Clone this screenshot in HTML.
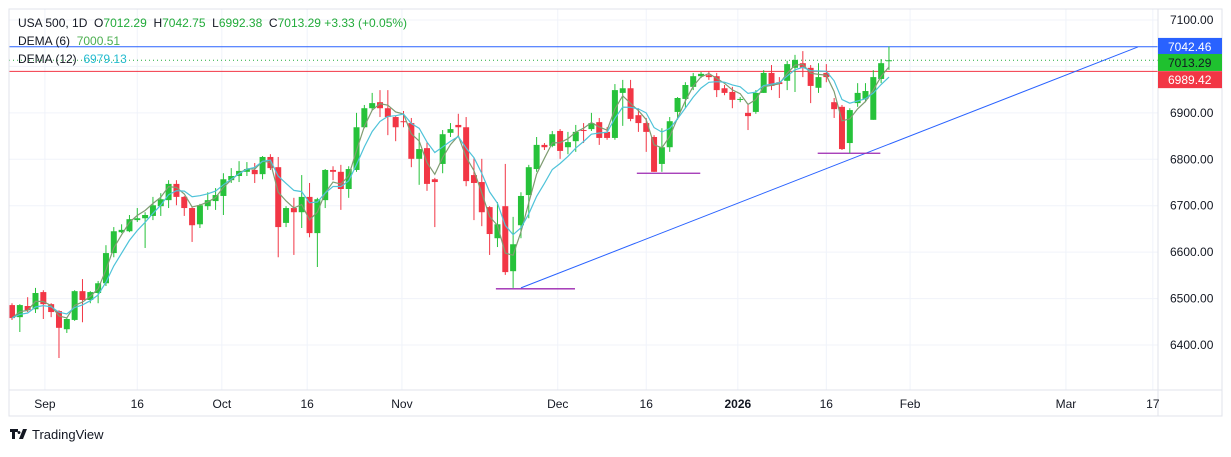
<!DOCTYPE html>
<html><head><meta charset="utf-8">
<style>
html,body{margin:0;padding:0;background:#fff;}
body{width:1231px;height:452px;overflow:hidden;font-family:"Liberation Sans",sans-serif;}
svg text{font-family:"Liberation Sans",sans-serif;}
</style></head>
<body>
<svg id="chart" width="1231" height="452" viewBox="0 0 1231 452" xmlns="http://www.w3.org/2000/svg">
  <g id="grid"></g>
  <g id="drawings"></g>
  <g id="candles"></g>
  <g id="mas"></g>
  <g id="axes"></g>
  <g id="legend">
    <text x="18" y="27" font-size="12" fill="#131722" xml:space="preserve">USA 500, 1D  O<tspan fill="#22ab3a">7012.29</tspan>  H<tspan fill="#22ab3a">7042.75</tspan>  L<tspan fill="#22ab3a">6992.38</tspan>  C<tspan fill="#22ab3a">7013.29 +3.33 (+0.05%)</tspan></text>
    <text x="18" y="45" font-size="12" fill="#131722" xml:space="preserve">DEMA (6)  <tspan fill="#4caf50">7000.51</tspan></text>
    <text x="18" y="63" font-size="12" fill="#131722" xml:space="preserve">DEMA (12)  <tspan fill="#26bcd0">6979.13</tspan></text>
  </g>
  <g>
    <path d="M10 429h8v3h-3v7h-3v-7h-2z M19 431a1.5 1.5 0 1 0 0.01 0z M23 429h4l-4 10h-4z" fill="#131722"/>
    <text x="32" y="439" font-size="13" fill="#131722">TradingView</text>
  </g>
</svg>
<script>
const opens=[6486,6460,6484,6477,6514,6488,6473,6434,6454,6516,6497,6512,6533,6598,6643,6645,6669,6673,6678,6699,6712,6747,6719,6695,6660,6699,6710,6721,6755,6764,6773,6777,6768,6805,6783,6663,6695,6686,6719,6641,6712,6777,6773,6736,6777,6869,6910,6923,6910,6891,6882,6878,6801,6824,6757,6790,6857,6874,6869,6766,6751,6697,6630,6699,6559,6658,6723,6779,6831,6829,6861,6826,6839,6863,6865,6880,6859,6846,6943,6953,6895,6878,6848,6790,6826,6902,6930,6956,6979,6981,6979,6953,6945,6928,6900,6902,6943,6986,6966,6969,6997,7007,6997,6954,6986,6923,6913,6835,6921,6930,6885,6973,7012.29];
const highs=[6490,6488,6503,6523,6518,6490,6475,6458,6518,6542,6516,6538,6615,6654,6660,6680,6695,6686,6719,6727,6755,6755,6721,6697,6704,6729,6738,6770,6781,6796,6794,6792,6807,6811,6805,6699,6717,6766,6749,6717,6779,6785,6788,6785,6900,6917,6943,6949,6949,6893,6904,6889,6857,6837,6760,6863,6878,6898,6891,6803,6801,6699,6708,6790,6676,6729,6788,6848,6835,6861,6865,6859,6874,6878,6900,6889,6869,6962,6971,6971,6910,6889,6852,6867,6891,6934,6966,6986,6988,6990,6986,6960,6956,6934,6917,6949,6992,7003,6977,7012,7025,7033,7003,7007,7005,6932,6917,6910,6964,6964,6992,7016,7042.75];
const lows=[6454,6428,6471,6469,6456,6460,6372,6426,6452,6449,6490,6490,6527,6589,6641,6643,6665,6609,6669,6678,6695,6701,6678,6622,6652,6691,6691,6680,6749,6751,6764,6749,6757,6777,6589,6654,6594,6652,6632,6568,6695,6755,6691,6717,6773,6867,6906,6891,6852,6839,6869,6783,6745,6732,6654,6770,6848,6848,6742,6669,6656,6594,6611,6551,6523,6630,6673,6773,6820,6826,6801,6811,6816,6835,6861,6831,6842,6842,6872,6882,6859,6816,6773,6773,6816,6885,6910,6949,6975,6971,6934,6938,6910,6923,6863,6898,6943,6949,6932,6949,6945,6977,6921,6943,6966,6889,6820,6813,6913,6923,6885,6964,6992.38];
const closes=[6458,6486,6475,6512,6488,6471,6437,6456,6516,6497,6514,6533,6598,6645,6648,6671,6673,6680,6701,6714,6747,6719,6695,6658,6701,6712,6723,6757,6764,6775,6779,6768,6805,6781,6654,6695,6686,6719,6641,6714,6777,6773,6736,6779,6869,6910,6921,6910,6891,6869,6880,6801,6822,6747,6751,6854,6865,6869,6753,6749,6686,6639,6660,6557,6617,6721,6783,6831,6826,6854,6818,6837,6859,6861,6878,6846,6846,6949,6953,6887,6878,6859,6773,6826,6882,6932,6960,6979,6984,6977,6949,6943,6928,6930,6893,6943,6986,6958,6962,7005,7014,6997,6958,6977,6977,6908,6822,6906,6943,6947,6977,7007,7013.29];
const priceTicks=[7100,7000,6900,6800,6700,6600,6500,6400];
const timeLabels=["Sep","16","Oct","16","Nov","Dec","16","2026","16","Feb","Mar","17"];
const timeSlots=[4.2,16,26.8,37.7,49.8,69.7,81,92.7,104,114.7,134.6,145.7];
const hLinePrices=[7042.46,7013.29,6989.42];
const trendFrom=[65,6523];
const trendTo=[143.8,7042];
const supportStart=[61.8,79.8,102.9];
const supportEnd=[71.9,87.9,110.9];
const supportPrice=[6521,6770,6813];

const NS="http://www.w3.org/2000/svg";
const X0=12, STEP=7.83, PLOT_R=1158, PLOT_B=390;
function xs(i){return X0+i*STEP;}
function ys(p){return 20+(7100-p)*0.4643;}
function mk(tag,attrs,parent){const e=document.createElementNS(NS,tag);for(const k in attrs)e.setAttribute(k,attrs[k]);parent.appendChild(e);return e;}

const grid=document.getElementById('grid');
const axes=document.getElementById('axes');
let fr=mk('rect',{x:9,y:9,width:1213,height:407,fill:'none',stroke:'#e0e3eb'},axes);


let l1=mk('line',{x1:9,x2:1222,y1:PLOT_B,y2:PLOT_B,stroke:'#e0e3eb'},axes);


let l2=mk('line',{x1:PLOT_R,x2:PLOT_R,y1:9,y2:416,stroke:'#e0e3eb'},axes);



priceTicks.forEach(p=>{
  const y=ys(p);
  const g=mk('line',{x1:9,x2:PLOT_R,y1:y,y2:y,stroke:'#f0f3fa'},grid);
  
  
  const t=mk('text',{x:1170,y:y+4,'font-size':12,fill:'#131722'},axes);
  
  
  t.textContent=p.toFixed(2);
});
timeLabels.forEach((lab,k)=>{
  const x=xs(timeSlots[k]);
  const g=mk('line',{x1:x,x2:x,y1:9,y2:PLOT_B,stroke:'#f0f3fa'},grid);
  
  
  const t=mk('text',{x:x,y:408,'font-size':12,fill:'#131722','text-anchor':'middle','font-weight':lab==='2026'?'bold':'normal'},axes);
  
  
  t.textContent=lab;
});

const dr=document.getElementById('drawings');
const hColors=['#2962ff','#22ab3a','#f23645'];
const hBg=['#2962ff','#1fc12f','#f23645'];
const hTxt=['#fff','#131722','#fff'];
const badgeShift=[-0.3,2.2,8.3];
hLinePrices.forEach((p,k)=>{
  const y=ys(p);
  const ln=mk('line',{x1:9,x2:PLOT_R,y1:y,y2:y,stroke:hColors[k],'stroke-width':1,'stroke-dasharray':k===1?'1,3':'none'},dr);
  
  
  const by=y-8.5+badgeShift[k];
  const r=mk('rect',{x:PLOT_R,y:by,width:64,height:17,fill:hBg[k]},axes);
  
  
  const t=mk('text',{x:1168,y:by+13,'font-size':12,fill:hTxt[k]},axes);
  
  
  t.textContent=p.toFixed(2);
});
const tl=mk('line',{x1:xs(trendFrom[0]),y1:ys(trendFrom[1]),x2:xs(trendTo[0]),y2:ys(trendTo[1]),stroke:'#2962ff','stroke-width':1},dr);


supportPrice.forEach((p,k)=>{
  const s=mk('line',{x1:xs(supportStart[k]),x2:xs(supportEnd[k]),y1:ys(p),y2:ys(p),stroke:'#9c27b0','stroke-width':1.3},dr);
  
  
});

const cg=document.getElementById('candles');
closes.forEach((c,i)=>{
  const o=opens[i],h=highs[i],l=lows[i];
  const up=c>=o, col=up?'#26c23a':'#f23645';
  const x=xs(i);
  const w=mk('line',{x1:x,x2:x,y1:ys(h),y2:ys(l),stroke:col,'stroke-width':1},cg);
  
  
  const top=ys(Math.max(o,c)), bot=ys(Math.min(o,c));
  const b=mk('rect',{x:x-3,y:top,width:6,height:Math.max(1,bot-top),fill:col},cg);
  
  
});

function ema(arr,n){const k=2/(n+1);const out=[];let e=arr[0];arr.forEach((v,i)=>{e=i===0?v:v*k+e*(1-k);out.push(e);});return out;}
function dema(arr,n){const e1=ema(arr,n),e2=ema(e1,n);return e1.map((v,i)=>2*v-e2[i]);}
const mg=document.getElementById('mas');
[[6,'#7f9c72'],[12,'#4fc3d9']].forEach(([n,col])=>{
  const d=dema(closes,n);
  const pts=d.map((v,i)=>xs(i).toFixed(1)+','+ys(v).toFixed(1)).join(' ');
  const pl=mk('polyline',{points:pts,fill:'none',stroke:col,'stroke-width':1.2},mg);
  
  
});
</script>
</body></html>
